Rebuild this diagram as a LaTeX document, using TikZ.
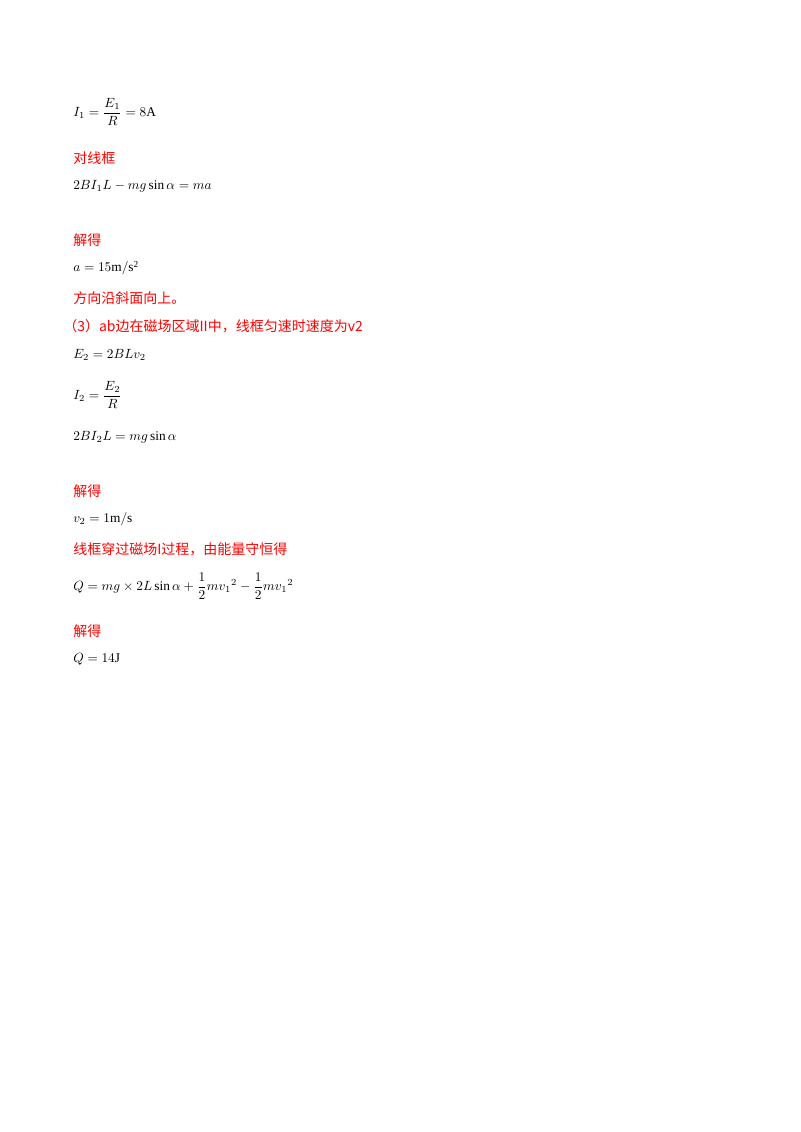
\documentclass[tikz,border=0pt]{standalone}
\usepackage{fontspec}
\setmainfont{Liberation Serif}
\newfontfamily\cjk{Noto Sans CJK SC}
\usepackage{amsmath}
\begin{document}
\begin{tikzpicture}[x=0.75pt,y=-0.75pt,
  cn/.style={anchor=west,inner sep=0pt,text=red,font=\cjk\fontsize{10.5pt}{12pt}\selectfont},
  mt/.style={anchor=west,inner sep=0pt,font=\fontsize{10pt}{12pt}\selectfont}]
\useasboundingbox[fill=white] (0,0) rectangle (800,1132);
\node[mt] (m1) at (73,112) {$I_1=\dfrac{E_1}{R}=8\mathrm{A}$};
\node[cn] (t1) at (73,158) {对线框};
\node[mt] (m2) at (73,186) {$2BI_1L-mg\sin\alpha=ma$};
\node[cn] (t2) at (73,240) {解得};
\node[mt] (m3) at (73,268) {$a=15\mathrm{m/s^2}$};
\node[cn] (t3) at (73,298) {方向沿斜面向上。};
\node[cn] (t4) at (63,326) {（3）ab边在磁场区域II中，线框匀速时速度为v2};
\node[mt] (m4) at (73,355) {$E_2=2BLv_2$};
\node[mt] (m5) at (73,395) {$I_2=\dfrac{E_2}{R}$};
\node[mt] (m6) at (73,437) {$2BI_2L=mg\sin\alpha$};
\node[cn] (t5) at (73,491) {解得};
\node[mt] (m7) at (73,519) {$v_2=1\mathrm{m/s}$};
\node[cn] (t6) at (73,549) {线框穿过磁场I过程，由能量守恒得};
\node[mt] (m8) at (73,586) {$Q=mg\times2L\sin\alpha+\dfrac12m{v_1}^2-\dfrac12m{v_1}^2$};
\node[cn] (t7) at (73,631) {解得};
\node[mt] (m9) at (73,659) {$Q=14\mathrm{J}$};
\end{tikzpicture}
\end{document}
